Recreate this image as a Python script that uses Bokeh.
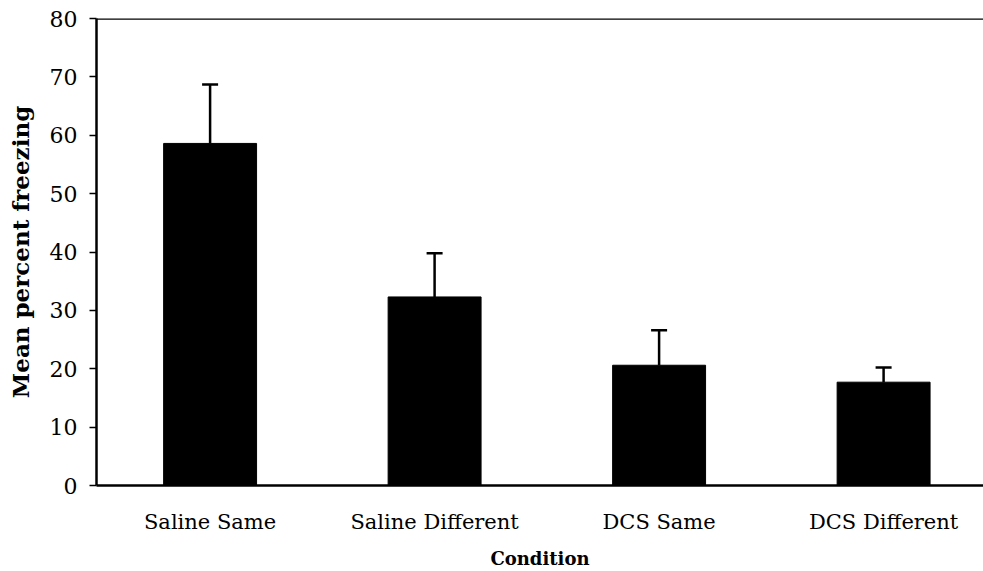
from bokeh.plotting import figure
from bokeh.models import ColumnDataSource, Range1d, FixedTicker, Whisker, TeeHead, Span
from bokeh.embed import file_html
from bokeh.resources import INLINE

categories = ["Saline Same", "Saline Different", "DCS Same", "DCS Different"]
means = [58.6, 32.3, 20.6, 17.7]
errors = [10.1, 7.5, 6.0, 2.5]
y_ticks = [0, 10, 20, 30, 40, 50, 60, 70, 80]

xs = list(range(len(categories)))
source = ColumnDataSource(data=dict(
    x=xs,
    top=means,
    upper=[m + e for m, e in zip(means, errors)],
))

FONT = "DejaVu Serif"

p = figure(width=983, height=571, output_backend="svg", toolbar_location=None,
           x_range=Range1d(-0.506, 3.445), y_range=Range1d(0, 80),
           min_border_left=96, min_border_top=18, min_border_right=0, min_border_bottom=86)
p.outline_line_color = None
p.background_fill_color = "white"
p.border_fill_color = "white"
p.xgrid.grid_line_color = None
p.ygrid.grid_line_color = None

p.vbar(x="x", top="top", width=0.414, bottom=0, source=source,
       fill_color="black", line_color="black")

whisk = Whisker(base="x", lower="top", upper="upper", source=source,
                line_color="black", line_width=2.5, lower_head=None,
                upper_head=TeeHead(size=16, line_color="black", line_width=2.5))
p.add_layout(whisk)

p.add_layout(Span(location=80, dimension="width", line_color="black", line_width=2.5))

# y axis
p.yaxis.ticker = FixedTicker(ticks=y_ticks)
p.yaxis.axis_line_width = 2.5
p.yaxis.axis_line_color = "black"
p.yaxis.major_tick_out = 7
p.yaxis.major_tick_in = 0
p.yaxis.major_tick_line_width = 1.5
p.yaxis.minor_tick_line_color = None
p.yaxis.major_label_text_font = FONT
p.yaxis.major_label_text_font_size = "22px"
p.yaxis.major_label_text_color = "black"
p.yaxis.major_label_standoff = 12
p.yaxis.axis_label = "Mean percent freezing"
p.yaxis.axis_label_text_font = FONT
p.yaxis.axis_label_text_font_style = "bold"
p.yaxis.axis_label_text_font_size = "23px"
p.yaxis.axis_label_text_color = "black"
p.yaxis.axis_label_standoff = 13

# x axis
p.xaxis.ticker = FixedTicker(ticks=xs)
p.xaxis.major_label_overrides = {i: c for i, c in zip(xs, categories)}
p.xaxis.axis_line_width = 2.5
p.xaxis.axis_line_color = "black"
p.xaxis.major_tick_line_color = None
p.xaxis.minor_tick_line_color = None
p.xaxis.major_label_text_font = FONT
p.xaxis.major_label_text_font_size = "21px"
p.xaxis.major_label_text_color = "black"
p.xaxis.major_label_standoff = 18
p.xaxis.axis_label = "Condition"
p.xaxis.axis_label_text_font = FONT
p.xaxis.axis_label_text_font_style = "bold"
p.xaxis.axis_label_text_font_size = "18px"
p.xaxis.axis_label_text_color = "black"
p.xaxis.axis_label_standoff = 11

open("out.html", "w").write(file_html(p, INLINE))
